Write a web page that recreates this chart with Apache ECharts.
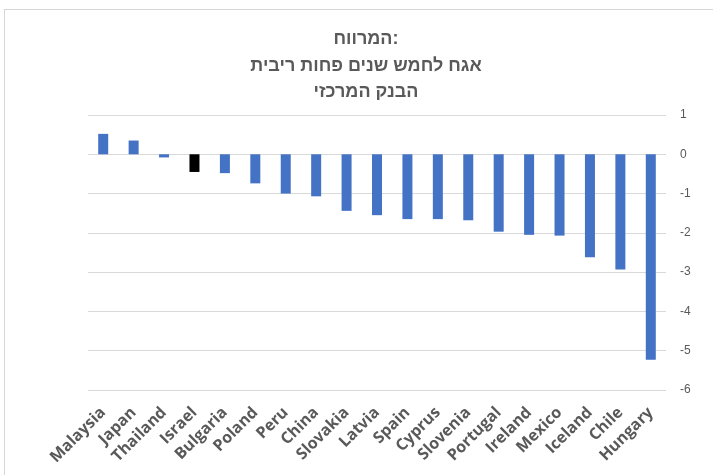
<!DOCTYPE html>
<html>
<head>
<meta charset="utf-8">
<script src="https://cdn.jsdelivr.net/npm/echarts@6/dist/echarts.min.js"></script>
<style>
html,body{margin:0;padding:0;background:#fff;}
#chart{position:absolute;left:0;top:0;width:713px;height:475px;}
#frame{position:absolute;left:4px;top:9px;width:720px;height:480px;border-top:1px solid #d6d6d6;border-left:1px solid #d6d6d6;pointer-events:none;}
</style>
</head>
<body>
<div id="chart"></div>
<div id="frame"></div>
<script>
const categories = ["Malaysia","Japan","Thailand","Israel","Bulgaria","Poland","Peru","China","Slovakia","Latvia","Spain","Cyprus","Slovenia","Portugal","Ireland","Mexico","Iceland","Chile","Hungary"];
const values = [0.52,0.35,-0.08,-0.45,-0.48,-0.74,-1.0,-1.07,-1.44,-1.55,-1.65,-1.65,-1.68,-1.97,-2.05,-2.07,-2.62,-2.93,-5.23];
const highlight = "Israel";
const yTicks = {min:-6, max:1, interval:1};
const titleText = "המרווח:\nאגח לחמש שנים פחות ריבית\nהבנק המרכזי";

const chart = echarts.init(document.getElementById('chart'));
chart.setOption({
  animation:false,
  backgroundColor:'transparent',
  title:{
    text:titleText, left:361, top:21,
    textAlign:'center',
    textStyle:{fontFamily:'Liberation Sans, DejaVu Sans, sans-serif', fontSize:18, fontWeight:'bold', color:'#595959', lineHeight:26.5}
  },
  grid:{left:88, right:47, top:115, bottom:85},
  xAxis:{
    type:'category', data:categories,
    axisLine:{show:false}, axisTick:{show:false},
    axisLabel:{rotate:45, interval:0, color:'#595959', fontFamily:'Open Sans, Lato, sans-serif', fontWeight:'bold', fontSize:16, margin:20}
  },
  yAxis:{
    type:'value', position:'right', min:yTicks.min, max:yTicks.max, interval:yTicks.interval,
    axisLine:{show:false}, axisTick:{show:false},
    axisLabel:{color:'#595959', fontFamily:'Liberation Sans, sans-serif', fontSize:12, margin:14},
    splitLine:{lineStyle:{color:'#d9d9d9', width:1}}
  },
  series:[{
    type:'bar', barWidth:10,
    data: values.map((v,i)=>({value:v, itemStyle:{color: categories[i]===highlight ? '#000000' : '#4472c4'}}))
  }]
});
</script>
</body>
</html>
